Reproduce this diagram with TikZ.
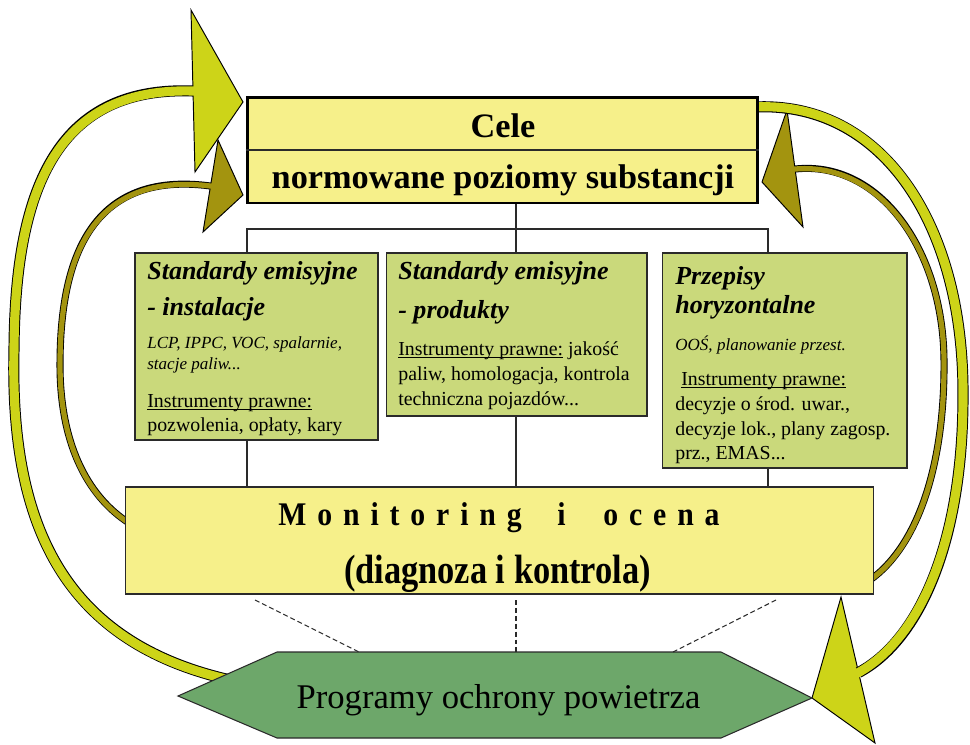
\documentclass[tikz,border=0pt]{standalone}
\usepackage{fontspec}
\setmainfont{Liberation Serif}
\newfontfamily\monfont[FakeStretch=0.9,LetterSpace=33]{Liberation Serif}
\newfontfamily\diagfont[FakeStretch=0.84]{Liberation Serif}
\newcommand\ulin[1]{\setbox0\hbox{#1}\rlap{\rule[-1.4pt]{\wd0}{0.5pt}}\box0\relax}
\usetikzlibrary{calc}
\definecolor{GoalYellow}{HTML}{F6F08A}
\definecolor{StdGreen}{HTML}{CAD97B}
\definecolor{ProgGreen}{HTML}{6DA76A}
\definecolor{Lime}{HTML}{CDD418}
\definecolor{Olive}{HTML}{A3940F}
\definecolor{Frame}{HTML}{2A2A2A}
\tikzset{goalbox/.style={rectangle,draw=black,line width=1.7pt,fill=GoalYellow,minimum width=10.22cm,minimum height=2.12cm,inner sep=0pt},stdbox/.style={rectangle,draw=Frame,line width=0.6pt,fill=StdGreen,inner sep=0pt},monbox/.style={rectangle,draw=Frame,line width=0.6pt,fill=GoalYellow,minimum width=14.98cm,minimum height=2.14cm,inner sep=0pt},tie/.style={draw=Frame,line width=0.6pt},dashtie/.style={draw=Frame,line width=0.6pt,dash pattern=on 2.8pt off 1.7pt},shaftrim/.style={draw=black,line cap=butt,shorten <=-0.55pt},headtip/.style={draw=black,line width=0.55pt,line join=miter},txt/.style={inner sep=0pt,anchor=base west,text=black},goalfont/.style={font=\fontsize{19.5}{23}\selectfont\bfseries},headfont/.style={font=\fontsize{14.8}{17}\selectfont\bfseries\itshape},smallfont/.style={font=\fontsize{9.7}{12}\selectfont\itshape},bodyfont/.style={font=\fontsize{11.3}{14}\selectfont},monfontsty/.style={font=\fontsize{18.8}{22}\monfont\bfseries}}

\begin{document}
\begin{tikzpicture}[x=0.02cm,y=-0.02cm]
\useasboundingbox (0,0) rectangle (970,744);
\fill[white] (0,0) rectangle (970,744);
% block arrows: heads first, then shafts
\filldraw[fill=Lime,headtip] (191,10) -- (243,102) -- (195,172) -- cycle;
\filldraw[fill=Olive,headtip] (218,140) -- (243,195) -- (203,232) -- cycle;
\filldraw[fill=Lime,headtip] (841,597) -- (812,698) -- (875,743) -- cycle;
\filldraw[fill=Olive,headtip] (787,110) -- (762,182) -- (803,227) -- cycle;
\draw[shaftrim,line width=6.3pt] (226,679) .. controls (60,640) and (10,520) .. (14,350) .. controls (15,180) and (62,86) .. (193,91);
\draw[draw=Lime,line width=5.2pt,shorten >=-1.5pt] (226,679) .. controls (60,640) and (10,520) .. (14,350) .. controls (15,180) and (62,86) .. (193,91);
\draw[shaftrim,line width=4pt] (129,523) .. controls (85,495) and (60,440) .. (60,365) .. controls (60,260) and (90,170) .. (210.5,186);
\draw[draw=Olive,line width=3pt,shorten >=-1.5pt] (129,523) .. controls (85,495) and (60,440) .. (60,365) .. controls (60,260) and (90,170) .. (210.5,186);
\draw[shaftrim,line width=6.3pt] (754,107) .. controls (880,100) and (962,220) .. (963,390) .. controls (964,540) and (920,640) .. (858.6,672.5);
\draw[draw=Lime,line width=5.2pt,shorten >=-1.5pt] (754,107) .. controls (880,100) and (962,220) .. (963,390) .. controls (964,540) and (920,640) .. (858.6,672.5);
\draw[shaftrim,line width=4pt] (870,580) .. controls (920,545) and (945,460) .. (944,360) .. controls (943,250) and (880,160) .. (795.1,169);
\draw[draw=Olive,line width=3pt,shorten >=-1.5pt] (870,580) .. controls (920,545) and (945,460) .. (944,360) .. controls (943,250) and (880,160) .. (795.1,169);
% boxes
\node[goalbox] (cele) at (502.5,150) {};
\draw[tie] (cele.west) -- (cele.east);
\node[txt,goalfont,anchor=base] (celetxt) at (503,137) {Cele};
\node[txt,goalfont,anchor=base] (normtxt) at (503,188) {normowane poziomy substancji};
\node[stdbox,minimum width=4.86cm,minimum height=3.74cm] (inst) at (256.5,346.5) {};
\node[stdbox,minimum width=5.22cm,minimum height=3.26cm] (prod) at (516.5,334.5) {};
\node[stdbox,minimum width=4.9cm,minimum height=4.3cm] (horiz) at (784.5,360.5) {};
\node[monbox] (monit) at (499.5,540.5) {};
\coordinate (barL) at (247,229);\coordinate (barM) at (516,229);\coordinate (barR) at (768,229);
\draw[tie] (cele.south -| barM) -- (barM |- prod.north);\draw[tie] (barL |- inst.north) -- (barL) -- (barR) -- (barR |- horiz.north);
\draw[tie] (barL |- inst.south) -- (barL |- monit.north);\draw[tie] (barM |- prod.south) -- (barM |- monit.north);\draw[tie] (barR |- horiz.south) -- (barR |- monit.north);
\node[txt,headfont] (inst1) at (147,279) {Standardy emisyjne};\node[txt,headfont] (inst2) at (147,315) {- instalacje};
\node[txt,smallfont] (inst3) at (147,348) {LCP, IPPC, VOC, spalarnie,};\node[txt,smallfont] (inst4) at (147,369) {stacje paliw...};
\node[txt,bodyfont] (inst5) at (147,407) {\ulin{Instrumenty prawne:}};\node[txt,bodyfont] (inst6) at (147,431) {pozwolenia, opłaty, kary};
\node[txt,headfont] (prod1) at (398,279) {Standardy emisyjne};\node[txt,headfont] (prod2) at (398,318) {- produkty};
\node[txt,bodyfont] (prod3) at (398,355) {\ulin{Instrumenty prawne:} jakość};\node[txt,bodyfont] (prod4) at (398,380) {paliw, homologacja, kontrola};\node[txt,bodyfont] (prod5) at (398,405) {techniczna pojazdów...};
\node[txt,headfont] (hor1) at (675,284) {Przepisy};\node[txt,headfont] (hor2) at (675,313) {horyzontalne};
\node[txt,smallfont] (hor3) at (675,350) {OOŚ, planowanie przest.};
\node[txt,bodyfont] (hor4) at (681,385) {\ulin{Instrumenty prawne:}};\node[txt,bodyfont] (hor5) at (675,410) {decyzje o środ. uwar.,};\node[txt,bodyfont] (hor6) at (675,435) {decyzje lok., plany zagosp.};\node[txt,bodyfont] (hor7) at (675,459) {prz., EMAS...};
\node[txt,monfontsty] (monA) at (278,525) {Monitoring};\node[txt,monfontsty] (monB) at (557,525) {i};\node[txt,monfontsty] (monC) at (603,525) {ocena};
\node[txt,anchor=base,font=\fontsize{23.3}{27}\diagfont\bfseries] (diagtxt) at (497.5,583) {(diagnoza i kontrola)};
% programme hexagon
\coordinate (hxW) at (178,696);\coordinate (hxNW) at (277,652);\coordinate (hxNE) at (721,652);\coordinate (hxE) at (812,698);\coordinate (hxSE) at (721,738);\coordinate (hxSW) at (277,738);
\filldraw[fill=ProgGreen,draw=Frame,line width=0.6pt] (hxW) -- (hxNW) -- (hxNE) -- (hxE) -- (hxSE) -- (hxSW) -- cycle;
\node[txt,anchor=base,font=\fontsize{19.7}{23}\selectfont] (prog) at (498.5,708) {Programy ochrony powietrza};
\coordinate (dsL) at (255,600);\coordinate (dsM) at (516,600);\coordinate (dsR) at (776,600);
\coordinate (hxL) at (359,652);\coordinate (hxM) at (516,652);\coordinate (hxR) at (673,652);
\draw[dashtie] (dsL) -- (hxL);\draw[dashtie] (dsM) -- (hxM);\draw[dashtie] (dsR) -- (hxR);
\end{tikzpicture}
\end{document}
